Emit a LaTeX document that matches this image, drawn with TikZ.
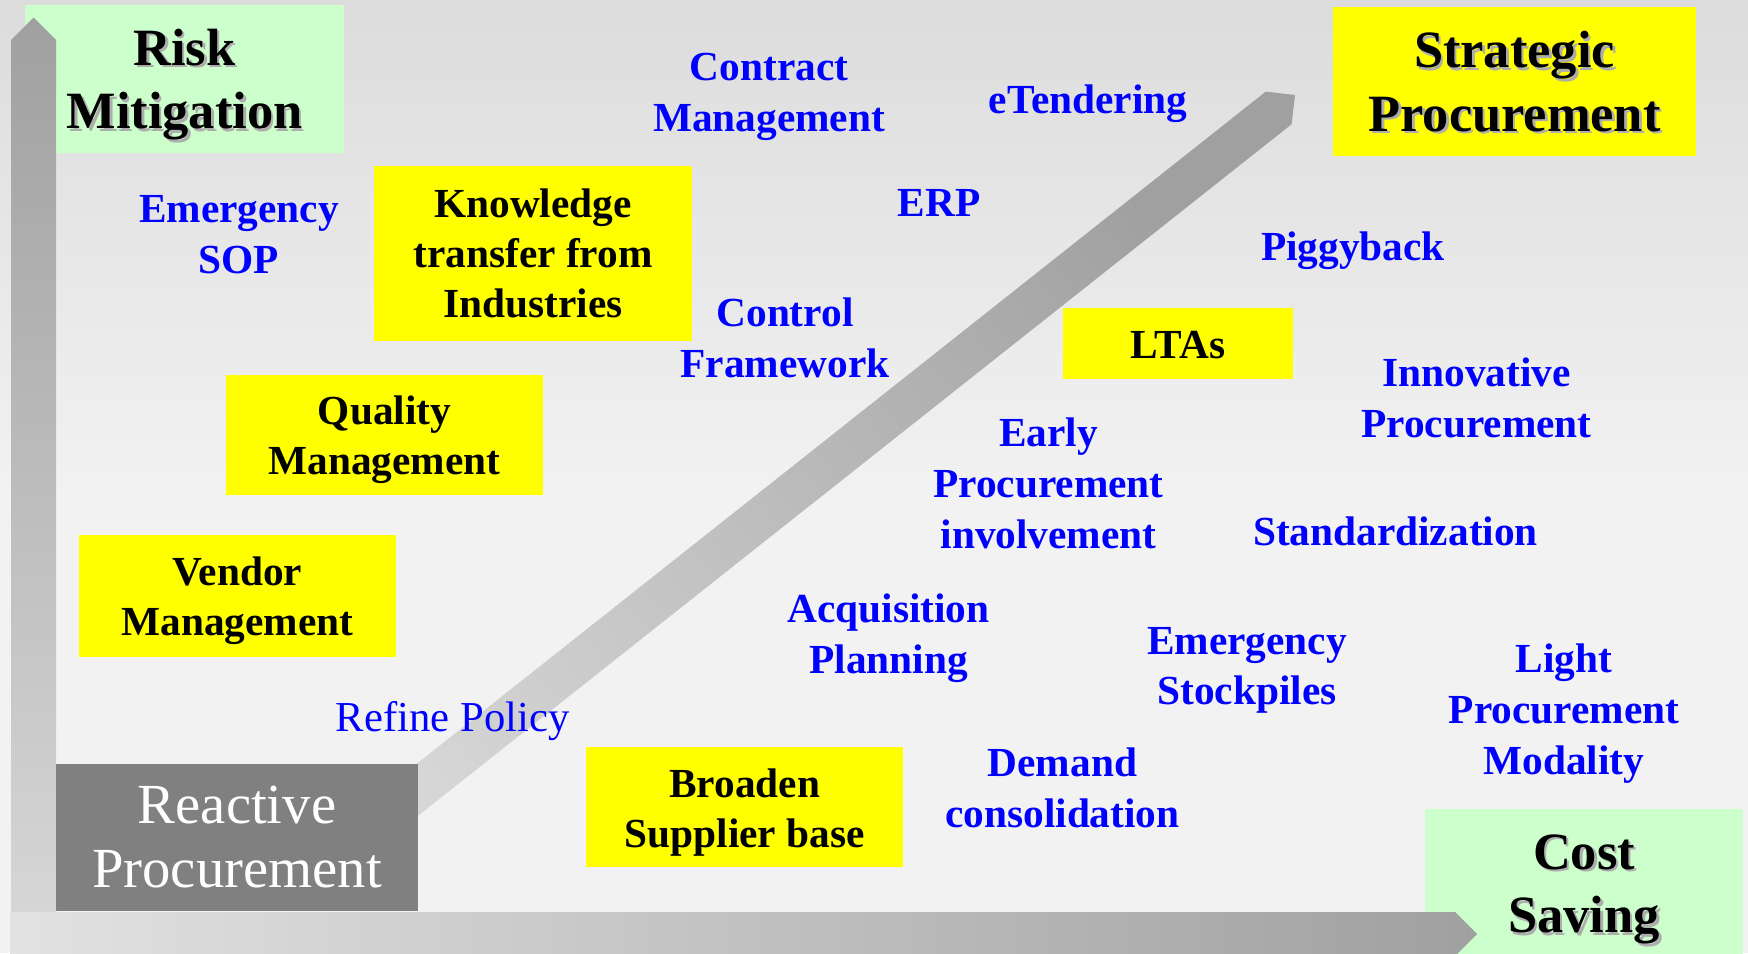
\documentclass[tikz,border=0pt]{standalone}
\usepackage{fontspec}
\setmainfont{Liberation Serif}
\definecolor{bgtop}{HTML}{DCDCDC}
\definecolor{bgbot}{HTML}{F2F2F2}
\definecolor{riskgreen}{HTML}{CCFFCC}
\definecolor{boxyellow}{HTML}{FFFF00}
\definecolor{reactgray}{HTML}{808080}
\definecolor{txtblue}{HTML}{0000FF}
\definecolor{arrdark}{HTML}{A0A0A0}
\definecolor{arrlight}{HTML}{D6D6D6}
\definecolor{arrlighter}{HTML}{E2E2E2}
\tikzset{
  ybox/.style={fill=boxyellow, inner sep=0pt},
  ytxt/.style={align=center, inner sep=0pt, text=black,
    font=\bfseries\fontsize{31}{37.5}\selectfont},
  gbox/.style={fill=riskgreen, inner sep=0pt},
  bigtxt/.style={align=center, inner sep=0pt, text=black,
    font=\bfseries\fontsize{39.3}{47.6}\selectfont},
  shadowtxt/.style={bigtxt, text=black!32},
  bluetxt/.style={align=center, inner sep=0pt, text=txtblue,
    font=\bfseries\fontsize{31}{38}\selectfont},
}
\begin{document}
\begin{tikzpicture}[x=0.75pt,y=-0.75pt]
\useasboundingbox (0,0) rectangle (1748,953);
\clip (0,0) rectangle (1748,953);
% background
\fill[bgbot] (0,0) rectangle (1748,953);
\shade[top color=bgtop, bottom color=bgbot] (0,0) rectangle (1748,500);
% green corner boxes
\node[gbox, minimum width=239.25pt, minimum height=111pt] (riskbox) at (184.5,79) {};
\node[gbox, minimum width=238.5pt, minimum height=114.75pt] (costbox) at (1584,885.5) {};
% axes arrows
\shade[top color=arrdark, bottom color=arrlight]
  (11,915) -- (11,40) -- (33.5,17.5) -- (56,40) -- (56,915) -- cycle;
\shade[left color=arrlighter, right color=arrdark]
  (10,912) -- (1455,912) -- (1477,934) -- (1455,956) -- (10,956) -- cycle;
% diagonal arrow
\coordinate (dA) at (312.9,899);
\coordinate (dB) at (287.1,866.4);
\coordinate (dC) at (1265.8,91.6);
\coordinate (dT) at (1295,95);
\coordinate (dD) at (1291.6,124.2);
\shade[top color=arrdark, bottom color=arrlight, shading angle=-51.6]
  (dA) -- (dB) -- (dC) -- (dT) -- (dD) -- cycle;
% reactive procurement
\node[fill=reactgray, inner sep=0pt, minimum width=271.5pt, minimum height=110.25pt] (reactbox) at (237,837.5) {};
\node[align=center, inner sep=0pt, text=white, font=\fontsize{42.5}{48}\selectfont] (react) at (237,837.5)
  {Reactive\\Procurement};
% strategic box
\node[ybox, minimum width=272.25pt, minimum height=111.75pt] (stratbox) at (1514.5,81.5) {};
% big texts with shadows
\node[shadowtxt] (riskS) at (187,87) {Risk\\Mitigation};
\node[bigtxt] (risk) at (184.5,84.5) {Risk\\Mitigation};
\node[shadowtxt] (stratS) at (1517,84) {Strategic\\Procurement};
\node[bigtxt] (strat) at (1514.5,81.5) {Strategic\\Procurement};
\node[shadowtxt] (costS) at (1586.5,892) {Cost\\Saving};
\node[bigtxt] (cost) at (1584,889.5) {Cost\\Saving};
% yellow boxes
\node[ybox, minimum width=238.5pt, minimum height=131.25pt] (know) at (533,253.5) {};
\node[ytxt] (knowT) at (533,253.5) {Knowledge\\transfer from\\Industries};
\node[ybox, minimum width=237.75pt, minimum height=90pt] (quality) at (384.5,435) {};
\node[ytxt] (qualityT) at (384.5,439.5) {Quality\\Management};
\node[ybox, minimum width=237.5pt, minimum height=91.2pt] (vendor) at (237.5,596) {};
\node[ytxt] (vendorT) at (237.5,601) {Vendor\\Management};
\node[ybox, minimum width=237.5pt, minimum height=90pt] (broaden) at (744.7,807) {};
\node[ytxt] (broadenT) at (744.7,812.5) {Broaden\\Supplier base};
\node[ybox, minimum width=172.5pt, minimum height=53.25pt] (ltas) at (1178,343.5) {};
\node[ytxt] (ltasT) at (1178,345.5) {LTAs};
% blue texts
\node[bluetxt] (contract) at (769,97) {Contract\\Management};
\node[bluetxt] (etender) at (1088,103.5) {eTendering};
\node[bluetxt] (esop) at (239,234.5) {Emergency\\SOP};
\node[bluetxt] (erp) at (939,203) {ERP};
\node[bluetxt] (piggy) at (1353,250.5) {Piggyback};
\node[bluetxt] (control) at (785,338) {Control\\Framework};
\node[bluetxt] (innov) at (1476.5,398) {Innovative\\Procurement};
\node[bluetxt] (early) at (1048.5,483.5) {Early\\Procurement\\involvement};
\node[bluetxt] (stand) at (1395.5,531) {Standardization};
\node[bluetxt] (acq) at (888.5,638) {Acquisition\\Planning};
\node[bluetxt] (stock) at (1247,670.5) {Emergency\\Stockpiles};
\node[bluetxt] (light) at (1564,713.5) {Light\\Procurement\\Modality};
\node[align=center, inner sep=0pt, text=txtblue, font=\fontsize{32}{38}\selectfont] (refine) at (452.6,721) {Refine Policy};
\node[bluetxt] (demand) at (1062.4,788) {Demand\\consolidation};
\end{tikzpicture}
\end{document}
